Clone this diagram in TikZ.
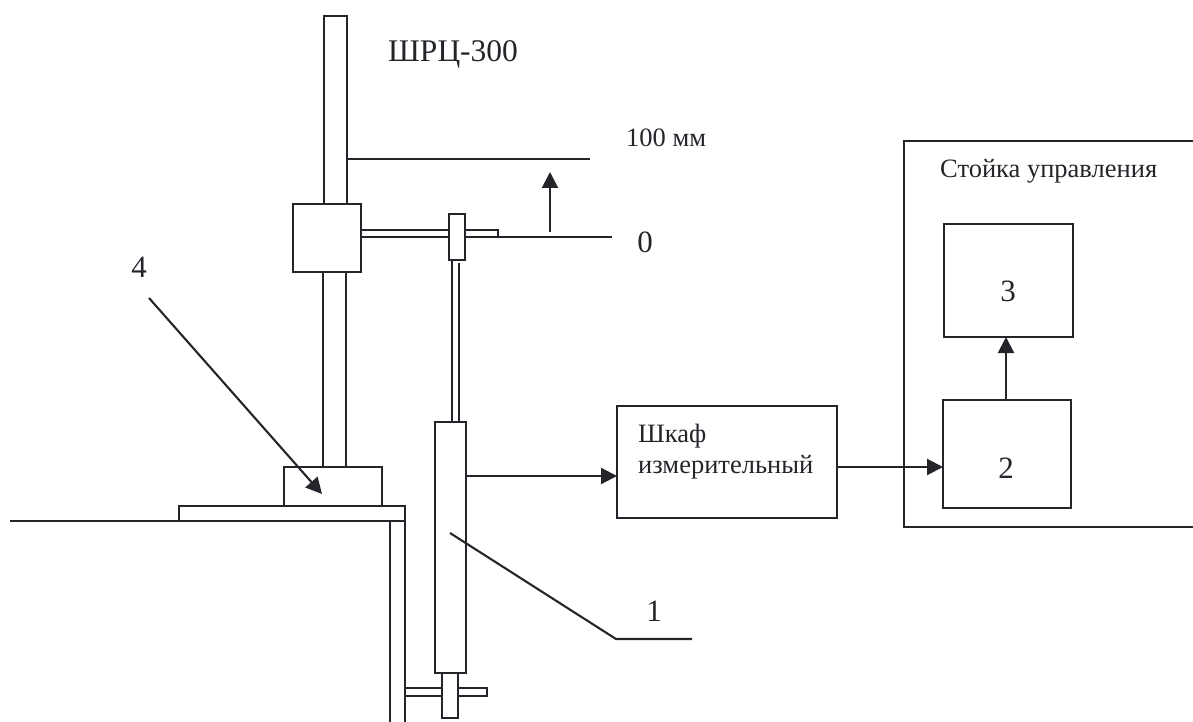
\documentclass[tikz,border=0pt]{standalone}
\usepackage{fontspec}
\setmainfont{Liberation Serif}
\usetikzlibrary{arrows.meta}
\definecolor{ink}{HTML}{26232A}
\tikzset{
  px/.style={x=1pt,y=-1pt},
  ln/.style={draw=ink,line width=2.1pt},
  box/.style={ln,rectangle,inner sep=0pt,outer sep=0pt,fill=white},
  conn/.style={ln,-{Triangle[length=16pt,width=16pt,color=ink,fill=ink]}},
  lbl/.style={inner sep=0pt,text=ink,font=\fontsize{31}{34}\selectfont},
  lbs/.style={inner sep=0pt,text=ink,anchor=base west,font=\fontsize{26.5}{30}\selectfont}
}
\newcommand{\rbox}[6][]{\node[box,minimum width=#4pt-#3pt,minimum height=#6pt-#5pt,#1] (#2) at ({(#3+#4)/2},{(#5+#6)/2}) {};}
\begin{document}
\begin{tikzpicture}[px]
\useasboundingbox (0,0) rectangle (1193,722);
% table
\coordinate (gndL) at (10,521);
\coordinate (legT) at (390,521);
\coordinate (legB) at (390,722);
\coordinate (legOB) at (405,722);
\draw[ln] (legT) -- (legB);
\rbox{plate}{179}{405}{506}{521}
\draw[ln] (plate.south east) -- (legOB);
\draw[ln] (gndL) -- (plate.south east);
% column
\rbox{base}{284}{382}{467}{506}
\rbox{columnT}{324}{347}{16}{204}
\rbox{columnB}{323}{346}{272}{467}
\rbox{slider}{293}{361}{204}{272}
% arm
\rbox{armL}{361}{498}{230}{237}
\coordinate (zero) at (612,237);
\draw[ln] (armL.south east) -- (zero);
\coordinate (hundredL) at (347,159);
\coordinate (hundredR) at (590,159);
\draw[ln] (hundredL) -- (hundredR);
\coordinate (upS) at (550,232);
\coordinate (upE) at (550,172);
\draw[conn] (upS) -- (upE);
% rod
\coordinate (rodA) at (452,260);
\coordinate (rodB) at (452,422);
\coordinate (rodC) at (459,263);
\coordinate (rodD) at (459,422);
\draw[ln] (rodA) -- (rodB);
\draw[ln] (rodC) -- (rodD);
\rbox{clamp}{449}{465}{214}{260}
% lower arm and knob
\rbox{lowArm}{405}{487}{688}{696}
\rbox{knob}{442}{458}{673}{718}
\rbox{cyl}{435}{466}{422}{673}
% blocks
\rbox{cab}{617}{837}{406}{518}
\rbox{bTwo}{943}{1071}{400}{508}
\rbox{bThree}{944}{1073}{224}{337}
\coordinate (rTR) at (1193,141);
\coordinate (rTL) at (904,141);
\coordinate (rBL) at (904,527);
\coordinate (rBR) at (1193,527);
\draw[ln] (rTR) -- (rTL) -- (rBL) -- (rBR);
% connectors
\coordinate (cylOut) at (466,476);
\draw[conn] (cylOut) -- (cab.west |- cylOut);
\coordinate (cabOut) at (837,467);
\draw[conn] (cabOut) -- (bTwo.west |- cabOut);
\coordinate (twoUp) at (1006,400);
\draw[conn] (twoUp) -- (twoUp |- bThree.south);
% leaders
\coordinate (fourS) at (149,298);
\coordinate (fourE) at (322,494);
\draw[conn] (fourS) -- (fourE);
\coordinate (oneA) at (450,533);
\coordinate (oneB) at (616,639);
\coordinate (oneC) at (692,639);
\draw[ln] (oneA) -- (oneB) -- (oneC);
% labels
\node[lbs,anchor=base west,font=\fontsize{31.5}{34}\selectfont] (tShrc) at (388,62) {ШРЦ-300};
\node[lbs] (tHund) at (626,147) {100 мм};
\node[lbl] (tZero) at (645,242) {0};
\node[lbl] (tFour) at (139,267) {4};
\node[lbl] (tOne) at (654,611) {1};
\node[lbs] (tRack) at (940,178) {Стойка управления};
\node[lbl] (tThree) at (1008,291) {3};
\node[lbl] (tTwo) at (1006,468) {2};
\node[lbs] (tCabA) at (638,442) {Шкаф};
\node[lbs] (tCabB) at (638,473) {измерительный};
\end{tikzpicture}
\end{document}
